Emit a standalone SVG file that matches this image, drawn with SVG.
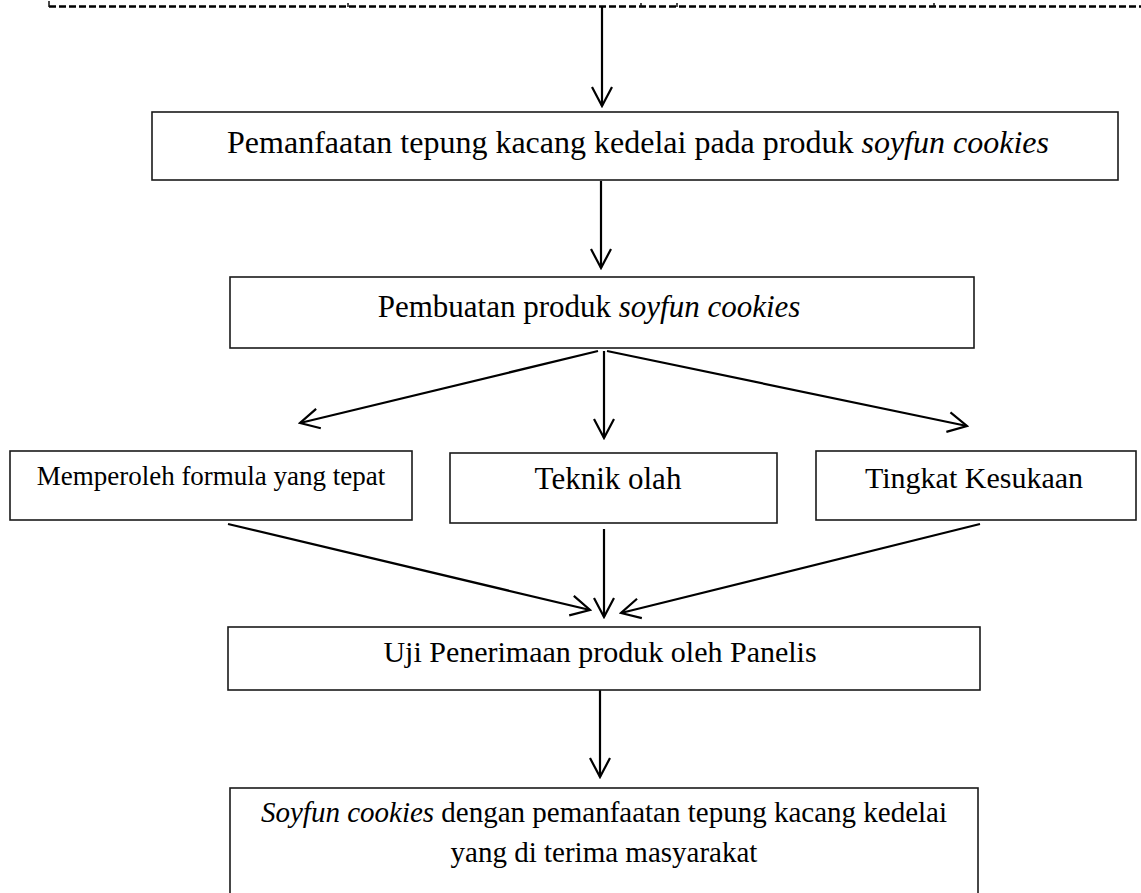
<svg xmlns="http://www.w3.org/2000/svg" width="1141" height="893" viewBox="0 0 1141 893">
<style>
.box{fill:#fff;stroke:#1a1a1a;stroke-width:1.6}
.t{font-family:"Liberation Serif","Times New Roman",serif;fill:#000;text-anchor:middle}
.i{font-style:italic}
.c{stroke:#000;stroke-width:2.2;fill:none}
.d{stroke:#000;stroke-width:2.6;fill:none;stroke-dasharray:7 3}
.k{stroke:#111;stroke-width:1.5;fill:none}
</style>
<defs>
<marker id="arr" viewBox="-22 -12 24 24" refX="0" refY="0" markerWidth="24" markerHeight="24" markerUnits="userSpaceOnUse" orient="auto">
<path d="M-19,-10 L0,0 L-19,10" stroke="#000" stroke-width="2.2" fill="none"/>
</marker>
</defs>
<g id="top-frame">
<line class="d" x1="49" y1="6.5" x2="1141" y2="6.5"/>
<path class="k" d="M49,1 V7 M348,3 V7 M641,3 V7 M677,3 V7 M934,3 V7"/>
</g>
<g id="connectors">
<line class="c" x1="602" y1="7" x2="602" y2="106" marker-end="url(#arr)"/>
<line class="c" x1="601" y1="181" x2="601" y2="268" marker-end="url(#arr)"/>
<line class="c" x1="598" y1="351" x2="300" y2="423" marker-end="url(#arr)"/>
<line class="c" x1="604" y1="351" x2="604" y2="438" marker-end="url(#arr)"/>
<line class="c" x1="607" y1="351" x2="967" y2="426" marker-end="url(#arr)"/>
<line class="c" x1="228" y1="524" x2="590" y2="610" marker-end="url(#arr)"/>
<line class="c" x1="604" y1="529" x2="604" y2="617" marker-end="url(#arr)"/>
<line class="c" x1="980" y1="524" x2="621" y2="613" marker-end="url(#arr)"/>
<line class="c" x1="600" y1="690" x2="600" y2="777" marker-end="url(#arr)"/>
</g>
<g id="node-pemanfaatan">
<rect class="box" x="152" y="112" width="966" height="68"/>
<text class="t" x="638" y="153" font-size="32">Pemanfaatan tepung kacang kedelai pada produk <tspan class="i">soyfun cookies</tspan></text>
</g>
<g id="node-pembuatan">
<rect class="box" x="230" y="277" width="744" height="71"/>
<text class="t" x="589" y="317" font-size="31">Pembuatan produk <tspan class="i">soyfun cookies</tspan></text>
</g>
<g id="node-formula">
<rect class="box" x="10" y="451" width="402" height="69"/>
<text class="t" x="211" y="485" font-size="27">Memperoleh formula yang tepat</text>
</g>
<g id="node-teknik">
<rect class="box" x="450" y="453" width="327" height="70"/>
<text class="t" x="608" y="489" font-size="31">Teknik olah</text>
</g>
<g id="node-tingkat">
<rect class="box" x="816" y="451" width="320" height="69"/>
<text class="t" x="974" y="488" font-size="30">Tingkat Kesukaan</text>
</g>
<g id="node-uji">
<rect class="box" x="228" y="627" width="752" height="63"/>
<text class="t" x="600" y="662" font-size="30">Uji Penerimaan produk oleh Panelis</text>
</g>
<g id="node-hasil">
<rect class="box" x="230" y="788" width="748" height="130"/>
<text class="t" x="604" y="822" font-size="29"><tspan class="i">Soyfun cookies</tspan> dengan pemanfaatan tepung kacang kedelai</text>
<text class="t" x="604" y="862" font-size="29">yang di terima masyarakat</text>
</g>
</svg>
